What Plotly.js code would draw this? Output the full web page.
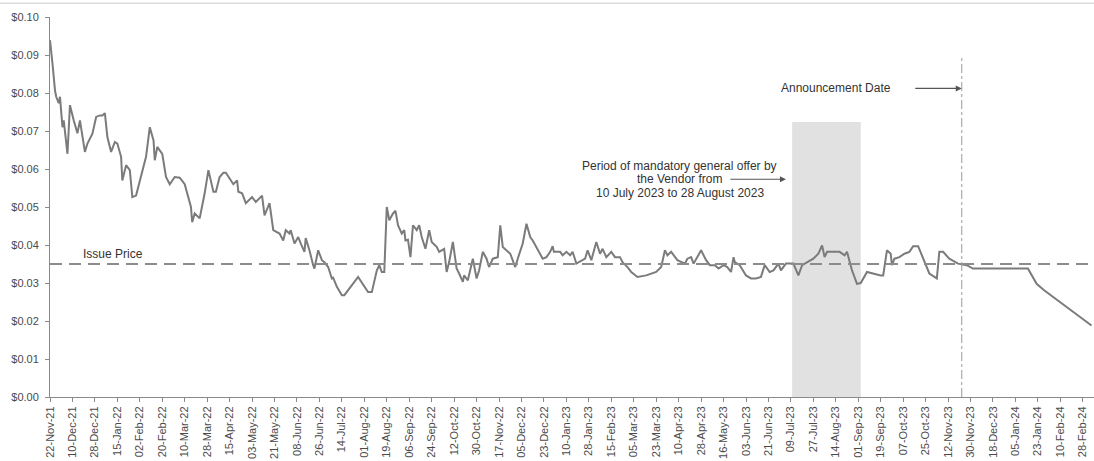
<!DOCTYPE html>
<html>
<head>
<meta charset="utf-8">
<script src="https://cdn.plot.ly/plotly-3.0.1.min.js"></script>
<style>html,body{margin:0;padding:0;background:#fff;}#chart{width:1094px;height:461px;}</style>
</head>
<body>
<div id="chart"></div>
<script>
const dates = [
"2021-11-22","2021-11-23","2021-11-24","2021-11-26","2021-11-27","2021-11-29","2021-11-30","2021-12-02","2021-12-03","2021-12-06",
"2021-12-08","2021-12-11","2021-12-14","2021-12-16","2021-12-20","2021-12-22","2021-12-26","2021-12-29","2022-01-01","2022-01-03",
"2022-01-05","2022-01-07","2022-01-10","2022-01-13","2022-01-15","2022-01-18","2022-01-19","2022-01-22","2022-01-25","2022-01-27",
"2022-01-30","2022-02-07","2022-02-10","2022-02-13","2022-02-14","2022-02-16","2022-02-20","2022-02-23","2022-02-26","2022-03-02",
"2022-03-06","2022-03-10","2022-03-13","2022-03-15","2022-03-16","2022-03-18","2022-03-22","2022-03-26","2022-03-29","2022-04-02",
"2022-04-04","2022-04-07","2022-04-10","2022-04-12","2022-04-18","2022-04-21","2022-04-22","2022-04-25","2022-04-28","2022-05-03",
"2022-05-06","2022-05-11","2022-05-13","2022-05-17","2022-05-20","2022-05-25","2022-05-28","2022-05-30","2022-06-02","2022-06-03",
"2022-06-06","2022-06-09","2022-06-11","2022-06-14","2022-06-15","2022-06-18","2022-06-21","2022-06-22","2022-06-25","2022-06-28",
"2022-06-30","2022-07-03","2022-07-06","2022-07-07","2022-07-10","2022-07-14","2022-07-16","2022-07-27","2022-08-04","2022-08-07",
"2022-08-11","2022-08-13","2022-08-15","2022-08-17","2022-08-19","2022-08-21","2022-08-24","2022-08-26","2022-08-28","2022-08-31",
"2022-09-02","2022-09-03","2022-09-05","2022-09-07","2022-09-09","2022-09-12","2022-09-14","2022-09-16","2022-09-19","2022-09-22",
"2022-09-24","2022-09-28","2022-09-30","2022-10-04","2022-10-06","2022-10-08","2022-10-11","2022-10-14","2022-10-16","2022-10-19",
"2022-10-20","2022-10-23","2022-10-27","2022-10-30","2022-11-01","2022-11-04","2022-11-07","2022-11-09","2022-11-12","2022-11-16",
"2022-11-18","2022-11-20","2022-11-26","2022-11-30","2022-12-02","2022-12-06","2022-12-09","2022-12-12","2022-12-14","2022-12-18",
"2022-12-22","2022-12-25","2022-12-28","2022-12-30","2022-12-31","2023-01-05","2023-01-07","2023-01-10","2023-01-13","2023-01-15",
"2023-01-18","2023-01-25","2023-01-27","2023-01-30","2023-02-03","2023-02-06","2023-02-08","2023-02-11","2023-02-15","2023-02-18",
"2023-02-22","2023-02-24","2023-02-28","2023-03-03","2023-03-08","2023-03-15","2023-03-23","2023-03-27","2023-03-30","2023-04-01",
"2023-04-04","2023-04-09","2023-04-15","2023-04-17","2023-04-20","2023-04-22","2023-04-28","2023-05-02","2023-05-05","2023-05-09",
"2023-05-12","2023-05-16","2023-05-19","2023-05-22","2023-05-24","2023-05-25","2023-05-29","2023-06-03","2023-06-07","2023-06-11",
"2023-06-15","2023-06-18","2023-06-22","2023-06-25","2023-06-29","2023-07-01","2023-07-05","2023-07-11","2023-07-15","2023-07-18",
"2023-07-22","2023-07-27","2023-07-31","2023-08-03","2023-08-05","2023-08-07","2023-08-12","2023-08-17","2023-08-21","2023-08-23",
"2023-08-27","2023-08-31","2023-09-03","2023-09-08","2023-09-19","2023-09-21","2023-09-24","2023-09-27","2023-09-28","2023-09-30",
"2023-10-04","2023-10-08","2023-10-12","2023-10-15","2023-10-19","2023-10-21","2023-10-24","2023-10-28","2023-11-03","2023-11-05",
"2023-11-08","2023-11-13","2023-11-20","2023-11-27","2023-12-02","2024-01-15","2024-01-22","2024-01-28","2024-03-06"
];
const prices = [
0.0939,0.0899,0.0877,0.0807,0.0790,0.0773,0.0790,0.0710,0.0728,0.0640,
0.0768,0.0728,0.0694,0.0728,0.0645,0.0667,0.0693,0.0737,0.0741,0.0741,
0.0747,0.0684,0.0645,0.0671,0.0667,0.0632,0.0570,0.0610,0.0597,0.0526,
0.0530,0.0632,0.0710,0.0675,0.0623,0.0658,0.0640,0.0579,0.0560,0.0579,
0.0577,0.0560,0.0526,0.0500,0.0460,0.0483,0.0470,0.0536,0.0597,0.0540,
0.0540,0.0579,0.0590,0.0590,0.0560,0.0570,0.0540,0.0536,0.0510,0.0526,
0.0513,0.0530,0.0478,0.0510,0.0439,0.0430,0.0412,0.0439,0.0430,0.0439,
0.0404,0.0421,0.0404,0.0382,0.0418,0.0386,0.0347,0.0338,0.0386,0.0360,
0.0355,0.0342,0.0312,0.0314,0.0290,0.0268,0.0268,0.0316,0.0276,0.0276,
0.0333,0.0347,0.0329,0.0329,0.0500,0.0465,0.0483,0.0490,0.0452,0.0430,
0.0439,0.0412,0.0414,0.0368,0.0452,0.0439,0.0452,0.0421,0.0390,0.0439,
0.0408,0.0395,0.0382,0.0390,0.0329,0.0355,0.0408,0.0338,0.0325,0.0303,
0.0320,0.0307,0.0364,0.0312,0.0333,0.0382,0.0364,0.0342,0.0364,0.0368,
0.0452,0.0395,0.0377,0.0342,0.0364,0.0404,0.0456,0.0421,0.0412,0.0386,
0.0364,0.0368,0.0382,0.0397,0.0382,0.0382,0.0373,0.0382,0.0373,0.0382,
0.0351,0.0364,0.0386,0.0360,0.0408,0.0377,0.0390,0.0368,0.0382,0.0368,
0.0368,0.0355,0.0342,0.0329,0.0316,0.0320,0.0329,0.0342,0.0386,0.0373,
0.0382,0.0360,0.0351,0.0364,0.0368,0.0351,0.0386,0.0360,0.0347,0.0347,
0.0338,0.0347,0.0342,0.0329,0.0368,0.0355,0.0347,0.0320,0.0312,0.0312,
0.0316,0.0347,0.0329,0.0333,0.0351,0.0333,0.0351,0.0351,0.0320,0.0347,
0.0355,0.0364,0.0377,0.0399,0.0368,0.0382,0.0382,0.0382,0.0373,0.0382,
0.0333,0.0298,0.0300,0.0329,0.0320,0.0320,0.0386,0.0377,0.0347,0.0364,
0.0368,0.0377,0.0382,0.0397,0.0397,0.0382,0.0355,0.0325,0.0312,0.0382,
0.0382,0.0364,0.0351,0.0347,0.0338,0.0338,0.0298,0.0281,0.0188
];
const tickDates = [
"2021-11-22","2021-12-10","2021-12-28","2022-01-15","2022-02-02","2022-02-20","2022-03-10","2022-03-28","2022-04-15","2022-05-03",
"2022-05-21","2022-06-08","2022-06-26","2022-07-14","2022-08-01","2022-08-19","2022-09-06","2022-09-24","2022-10-12","2022-10-30",
"2022-11-17","2022-12-05","2022-12-23","2023-01-10","2023-01-28","2023-02-15","2023-03-05","2023-03-23","2023-04-10","2023-04-28",
"2023-05-16","2023-06-03","2023-06-21","2023-07-09","2023-07-27","2023-08-14","2023-09-01","2023-09-19","2023-10-07","2023-10-25",
"2023-11-12","2023-11-30","2023-12-18","2024-01-05","2024-01-23","2024-02-10","2024-02-28"
];
const tickLabels = [
"22-Nov-21","10-Dec-21","28-Dec-21","15-Jan-22","02-Feb-22","20-Feb-22","10-Mar-22","28-Mar-22","15-Apr-22","03-May-22",
"21-May-22","08-Jun-22","26-Jun-22","14-Jul-22","01-Aug-22","19-Aug-22","06-Sep-22","24-Sep-22","12-Oct-22","30-Oct-22",
"17-Nov-22","05-Dec-22","23-Dec-22","10-Jan-23","28-Jan-23","15-Feb-23","05-Mar-23","23-Mar-23","10-Apr-23","28-Apr-23",
"16-May-23","03-Jun-23","21-Jun-23","09-Jul-23","27-Jul-23","14-Aug-23","01-Sep-23","19-Sep-23","07-Oct-23","25-Oct-23",
"12-Nov-23","30-Nov-23","18-Dec-23","05-Jan-24","23-Jan-24","10-Feb-24","28-Feb-24"
];
const yTicks = [0,0.01,0.02,0.03,0.04,0.05,0.06,0.07,0.08,0.09,0.10];
const yLabels = ["$0.00","$0.01","$0.02","$0.03","$0.04","$0.05","$0.06","$0.07","$0.08","$0.09","$0.10"];
const issuePrice = 0.035;
const offerStart = "2023-07-10", offerEnd = "2023-09-03", offerTop = 0.0724;
const announcementDate = "2023-11-23", announcementTop = 0.09;
const periodLines = ["Period of mandatory general offer by", "the Vendor from", "10 July 2023 to 28 August 2023"];
const periodLineY = [0.0608, 0.0573, 0.0537];

const font = "Liberation Sans, Arial, sans-serif";
const trace = {
  x: dates, y: prices, type: "scatter", mode: "lines",
  line: {color: "#7b7b7b", width: 2}, hoverinfo: "x+y"
};
const annotations = [
  {xref: "x", yref: "y", x: "2021-12-17", y: 0.0376, xanchor: "left", yanchor: "middle",
   text: "Issue Price", showarrow: false, font: {family: font, size: 12, color: "#333"}},
  {xref: "x", yref: "y", x: "2023-08-14", y: 0.0812, xanchor: "center", yanchor: "middle",
   text: "Announcement Date", showarrow: false, font: {family: font, size: 12, color: "#333"}},
  {xref: "x", yref: "y", x: announcementDate, y: 0.0812, ax: -48, ay: 0, text: "",
   showarrow: true, arrowhead: 2, arrowsize: 1, arrowwidth: 1.2, arrowcolor: "#555"},
  {xref: "x", yref: "y", x: "2023-07-05", y: 0.0573, ax: -57, ay: 0, text: "",
   showarrow: true, arrowhead: 2, arrowsize: 1, arrowwidth: 1.2, arrowcolor: "#555"}
];
periodLines.forEach((t, i) => annotations.push({
  xref: "x", yref: "y", x: "2023-04-11", y: periodLineY[i], xanchor: "center", yanchor: "middle",
  text: t, showarrow: false, font: {family: font, size: 12, color: "#333"}
}));
const layout = {
  width: 1094, height: 461,
  margin: {l: 50, r: 0, t: 17, b: 64},
  paper_bgcolor: "#fff", plot_bgcolor: "#fff",
  showlegend: false,
  font: {family: font, size: 11, color: "#555"},
  xaxis: {
    type: "date", range: ["2021-11-22", "2024-03-08"],
    tickvals: tickDates, ticktext: tickLabels, tickangle: -90,
    showgrid: false, zeroline: false, showline: true, linecolor: "#8a8a8a", linewidth: 1,
    ticks: "outside", ticklen: 4, tickcolor: "#8a8a8a",
    tickfont: {family: font, size: 11, color: "#4a4a4a"}
  },
  yaxis: {
    range: [0, 0.10], tickvals: yTicks, ticktext: yLabels,
    showgrid: false, zeroline: false, showline: true, linecolor: "#8a8a8a", linewidth: 1,
    ticks: "outside", ticklen: 4, tickcolor: "#8a8a8a", ticklabelstandoff: 4,
    tickfont: {family: font, size: 11, color: "#4a4a4a"}
  },
  shapes: [
    {type: "rect", xref: "x", yref: "y", x0: offerStart, x1: offerEnd, y0: 0, y1: offerTop,
     fillcolor: "#e1e1e1", line: {width: 0}, layer: "below"},
    {type: "line", xref: "paper", yref: "y", x0: 0, x1: 1, y0: issuePrice, y1: issuePrice,
     line: {color: "#8c8c8c", width: 1.8, dash: "12px,7px"}},
    {type: "line", xref: "x", yref: "y", x0: announcementDate, x1: announcementDate, y0: 0, y1: announcementTop,
     line: {color: "#9a9a9a", width: 1, dash: "dashdot"}},
    {type: "line", xref: "paper", yref: "paper", x0: -0.05, x1: 1, y0: 1.036, y1: 1.036,
     line: {color: "#dcdcdc", width: 1.5}}
  ],
  annotations: annotations
};
Plotly.newPlot("chart", [trace], layout, {displayModeBar: false, staticPlot: true});
</script>
</body>
</html>
